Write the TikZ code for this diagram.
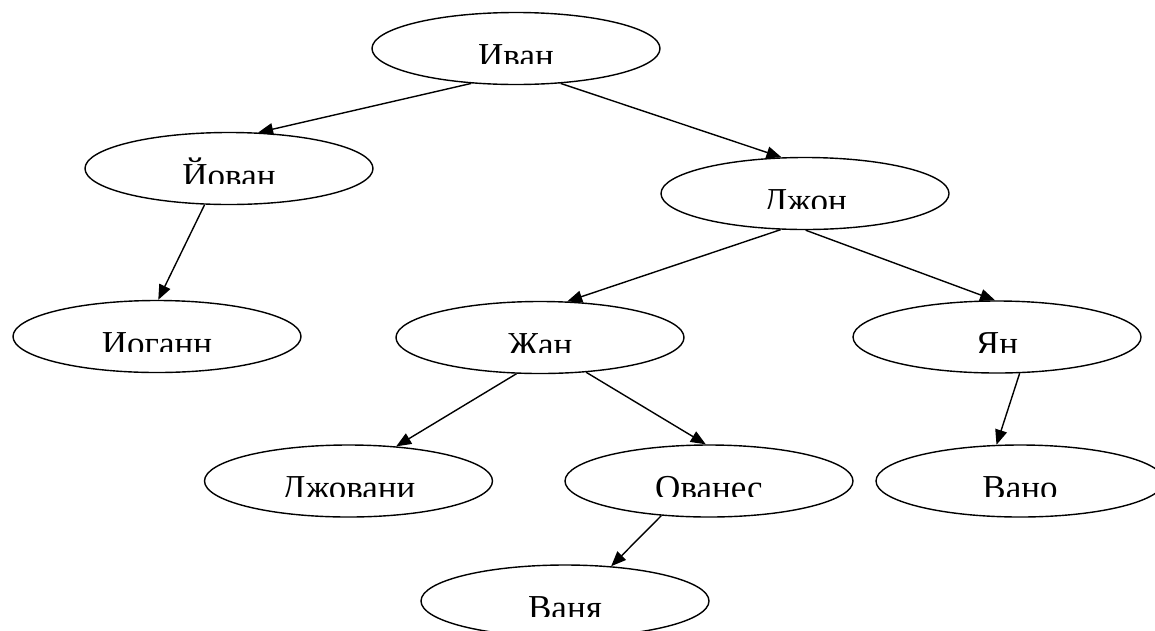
\documentclass[tikz,border=0pt]{standalone}
\usepackage{fontspec}
\setmainfont{Liberation Serif}
\usetikzlibrary{shapes.geometric,arrows.meta}

\tikzset{
  % a name in an ellipse; the label is cut off just above its baseline
  person/.style={draw, ellipse, line width=1.4pt,
    minimum width=288pt, minimum height=72pt, inner sep=0pt,
    path picture={
      \clip ([shift={(-200pt,60pt)}]path picture bounding box.center)
        rectangle ([shift={(200pt,-15pt)}]path picture bounding box.center);
      \node[anchor=base, inner sep=0pt, font=\fontsize{35pt}{40pt}\selectfont]
        at ([yshift=-18.5pt]path picture bounding box.center) {#1};
    }},
  link/.style={line width=1.4pt, -{Triangle[length=15pt,width=12pt]}}
}

\begin{document}
\begin{tikzpicture}[x=1pt, y=-1pt]
\useasboundingbox (0,0) rectangle (1155,630);

\node[person=Иван]    (ivan)     at (516,48.5)  {};
\node[person=Йован]   (jovan)    at (229,168.5) {};
\node[person=Джон]    (john)     at (805,193.5) {};
\node[person=Иоганн]  (johann)   at (157,336.5) {};
\node[person=Жан]     (zhan)     at (540,337.5) {};
\node[person=Ян]      (yan)      at (997,337)   {};
\node[person=Джовани] (dzhovani) at (348.5,481) {};
\node[person=Ованес]  (ovanes)   at (709,481)   {};
\node[person=Вано]    (vano)     at (1020,481)  {};
\node[person=Ваня]    (vanya)    at (565,601)   {};

\draw[link] (ivan.218)   -- (jovan.51);
\draw[link] (ivan.322)   -- (john.123);
\draw[link] (jovan.236)  -- (johann.88);
\draw[link] (john.236)   -- (zhan.53);
\draw[link] (john.271)   -- (yan.93);
\draw[link] (zhan.237)   -- (dzhovani.36);
\draw[link] (zhan.323)   -- (ovanes.95);
\draw[link] (yan.302)    -- (vano.123);
\draw[link] (ovanes.216) -- (vanya.37);
\end{tikzpicture}
\end{document}
